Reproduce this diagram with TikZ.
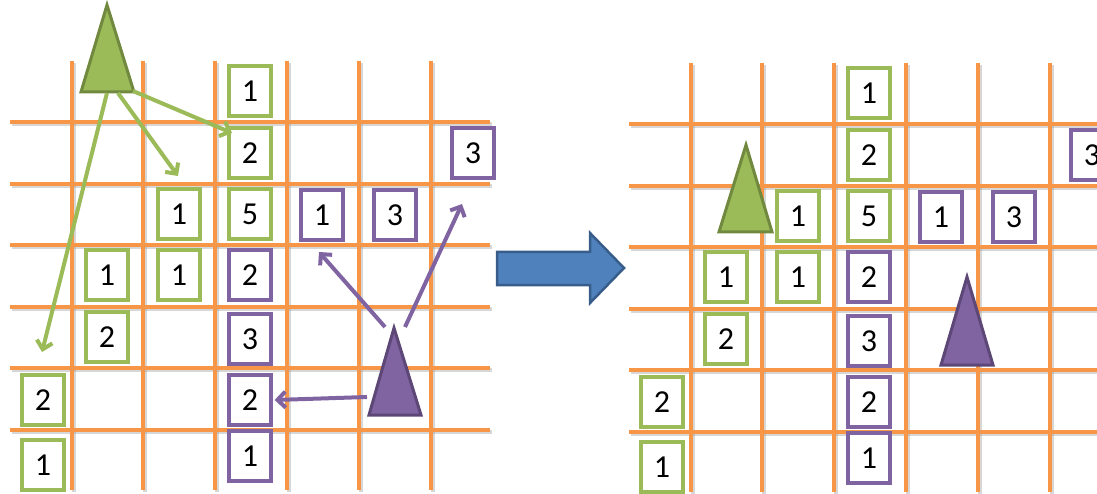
\documentclass[tikz,border=0pt]{standalone}
\usepackage{fontspec}
\setmainfont{Carlito}
\usetikzlibrary{arrows.meta}
\definecolor{gridor}{HTML}{F79646}
\definecolor{gfill}{HTML}{9BBB59}
\definecolor{gline}{HTML}{71893F}
\definecolor{pfill}{HTML}{8064A2}
\definecolor{pline}{HTML}{5C4776}
\definecolor{bfill}{HTML}{4F81BD}
\definecolor{bline}{HTML}{385D8A}
\tikzset{
  gridline/.style={gridor, line width=4.5pt},
  gridshadow/.style={black!45, line width=4.5pt, opacity=0.35},
  cell/.style={draw, fill=white, line width=3.3pt, minimum width=42pt, minimum height=50pt, inner sep=0pt, font=\fontsize{32}{36}\selectfont},
  gcell/.style={cell, draw=gfill},
  pcell/.style={cell, draw=pfill},
  gtri/.style={fill=gfill, draw=gline, line width=3pt, line join=miter},
  ptri/.style={fill=pfill, draw=pline, line width=3pt, line join=miter},
  garrow/.style={draw=gfill, line width=4pt, -{Straight Barb[length=8pt,width=16pt]}},
  parrow/.style={draw=pfill, line width=4pt, -{Straight Barb[length=8pt,width=16pt]}},
  bigarrow/.style={fill=bfill, draw=bline, line width=2.5pt, line join=miter},
}
\newcommand\drawboard[1]{%
  \foreach \v in {72,143,215,287,359,431} {\draw[gridshadow] (\v+2,61+2) -- (\v+2,490+2);}
  \foreach \h in {122,184,245,307,368,430} {\draw[gridshadow] (10+2,\h+2) -- (490+2,\h+2);}
  \foreach \h in {122,184,245,307,368,430} {\draw[gridline] (10,\h) -- (490,\h);}
  \foreach \v in {72,143,215,287,359,431} {\draw[gridline] (\v,61) -- (\v,490);}
  \node[gcell] (#1g1) at (250,91) {1};
  \node[gcell] (#1g2) at (250,153) {2};
  \node[pcell] (#1p3a) at (473,153) {3};
  \node[gcell] (#1g3) at (179,214) {1};
  \node[gcell] (#1g4) at (250,214) {5};
  \node[pcell] (#1p1a) at (322,215) {1};
  \node[pcell] (#1p3b) at (395,215) {3};
  \node[gcell] (#1g5) at (107,275) {1};
  \node[gcell] (#1g6) at (179,275) {1};
  \node[pcell] (#1p2a) at (250,275) {2};
  \node[gcell] (#1g7) at (107,337) {2};
  \node[pcell] (#1p3c) at (250,339) {3};
  \node[gcell] (#1g8) at (43,400) {2};
  \node[pcell] (#1p2b) at (250,400) {2};
  \node[gcell] (#1g9) at (43,465) {1};
  \node[pcell] (#1p1b) at (250,456) {1};
}
\begin{document}
\begin{tikzpicture}[x=1pt,y=-1pt]
\useasboundingbox (0,0) rectangle (1097,494);
\clip (0,0) rectangle (1097,494);
% left board
\drawboard{L}
\draw[gtri] (107,5) -- (134,92) -- (81,92) -- cycle;
\draw[ptri] (394,328) -- (421,415) -- (369,415) -- cycle;
\coordinate (gs1) at (133,91);
\coordinate (ge1) at (232,133);
\coordinate (gs2) at (118,93);
\coordinate (ge2) at (178,176);
\coordinate (gs3) at (107,93);
\coordinate (ge3) at (42,352);
\coordinate (ps1) at (385,327);
\coordinate (pe1) at (319,252);
\coordinate (ps2) at (405,327);
\coordinate (pe2) at (462,204);
\coordinate (ps3) at (367,397);
\draw[garrow] (gs1) -- (ge1);
\draw[garrow] (gs2) -- (ge2);
\draw[garrow] (gs3) -- (ge3);
\draw[parrow] (ps1) -- (pe1);
\draw[parrow] (ps2) -- (pe2);
\draw[parrow] (ps3) -- ([xshift=2pt]Lp2b.east);
% transition arrow
\draw[bigarrow] (497,252) -- (590,252) -- (590,233) -- (624,268) -- (590,303) -- (590,285) -- (497,285) -- cycle;
% right board
\begin{scope}[shift={(619,2)}]
\drawboard{R}
\end{scope}
\draw[gtri] (746,145) -- (772,232) -- (719,232) -- cycle;
\draw[ptri] (967,277) -- (993,365) -- (941,365) -- cycle;
\end{tikzpicture}
\end{document}
